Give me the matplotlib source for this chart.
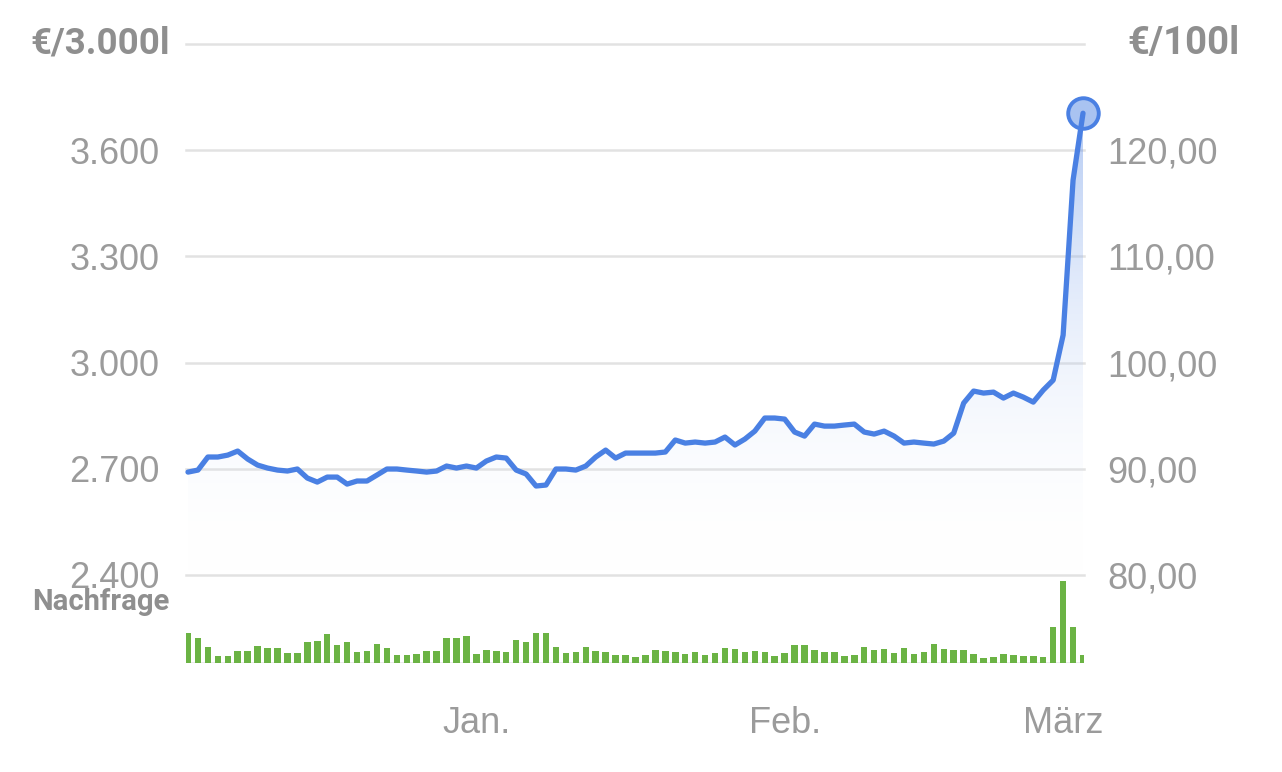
import numpy as np
import matplotlib.pyplot as plt
from matplotlib.colors import LinearSegmentedColormap
from matplotlib.patches import Polygon

# Heizölpreis in €/100l, ein Wert pro Tag (3. Dez. bis 3. März)
price = [89.69, 89.88, 91.11, 91.11, 91.29, 91.67, 90.92, 90.35, 90.07, 89.88,
         89.79, 89.98, 89.13, 88.75, 89.22, 89.22, 88.56, 88.85, 88.85, 89.41,
         89.98, 89.98, 89.88, 89.79, 89.69, 89.79, 90.26, 90.07, 90.26, 90.07,
         90.73, 91.11, 91.01, 89.88, 89.51, 88.38, 88.47, 89.98, 89.98, 89.88,
         90.26, 91.11, 91.76, 91.01, 91.48, 91.48, 91.48, 91.48, 91.58, 92.71,
         92.42, 92.52, 92.42, 92.52, 92.99, 92.24, 92.80, 93.55, 94.78, 94.78,
         94.68, 93.46, 93.08, 94.21, 94.02, 94.02, 94.12, 94.21, 93.46, 93.27,
         93.55, 93.08, 92.42, 92.52, 92.42, 92.33, 92.61, 93.36, 96.19, 97.32,
         97.13, 97.22, 96.66, 97.13, 96.75, 96.28, 97.41, 98.35, 102.59, 117.18,
         123.48]

# Nachfrage (relativer Index)
demand = [30, 25, 16, 7, 7, 12, 12, 17, 15, 15, 10, 10, 21, 22, 29, 18, 21, 11,
          12, 19, 15, 8, 8, 9, 12, 12, 25, 25, 27, 9, 13, 12,
          11, 23, 21, 30, 30, 16, 10, 11, 16, 12, 11, 8, 8, 6, 8, 13, 12, 11,
          9, 11, 8, 10, 15, 14, 11, 12, 11, 7, 10, 18,
          18, 13, 11, 11, 7, 8, 16, 13, 14, 10, 15, 9, 11, 19, 14, 13, 13, 9,
          5, 6, 9, 8, 7, 7, 6, 36, 82, 36, 8]

month_days = [29, 60, 88]
month_labels = ['Jan.', 'Feb.', 'März']
yticks = [80, 90, 100, 110, 120]
grid_levels = [80, 90, 100, 110, 120, 130]

days = np.arange(len(price))

W, H = 1282, 772
def px(l, t, r, b):
    return [l / W, 1 - b / H, (r - l) / W, (b - t) / H]

line_c = '#4a80e3'
tick_c = '#9b9b9b'
title_c = '#8f8f8f'
grid_c = '#e2e2e2'

fig = plt.figure(figsize=(W / 100, H / 100), dpi=100)
xlim = (-0.2, 90.1)

ax = fig.add_axes(px(186, 44, 1084, 575))
ax.set_xlim(*xlim)
ax.set_ylim(80, 130)
for s in ax.spines.values():
    s.set_visible(False)
ax.set_xticks([])

for g in grid_levels:
    ax.axhline(g, color=grid_c, lw=1.8, zorder=0, clip_on=False)

# gradient under the line
grad = np.linspace(0, 1, 256).reshape(-1, 1)
cmap = LinearSegmentedColormap.from_list('g', [(1, 1, 1, 0), (0.29, 0.50, 0.89, 0.55)])
im = ax.imshow(grad, extent=[xlim[0], xlim[1], 80, 130], origin='lower',
               cmap=cmap, aspect='auto', zorder=1, interpolation='bilinear')
verts = list(zip(days, price)) + [(days[-1], 80), (days[0], 80)]
poly = Polygon(verts, closed=True, facecolor='none', edgecolor='none')
ax.add_patch(poly)
im.set_clip_path(poly)

ax.plot(days[-1], price[-1], 'o', ms=22, mfc='#a9c3f1', mec=line_c, mew=2.8,
        zorder=3, clip_on=False)
ax.plot(days, price, color=line_c, lw=3.8, solid_joinstyle='round',
        solid_capstyle='round', zorder=4, clip_on=False)

ax.set_yticks(yticks)
ax.set_yticklabels([f"{v * 30:,.0f}".replace(',', '.') for v in yticks])
ax.tick_params(axis='y', length=0, pad=19, labelsize=26, labelcolor=tick_c)
for t in ax.get_yticklabels():
    t.set_family('Liberation Sans')

ax2 = ax.twinx()
ax2.set_ylim(80, 130)
for s in ax2.spines.values():
    s.set_visible(False)
ax2.set_yticks(yticks)
ax2.set_yticklabels([f"{v:.2f}".replace('.', ',') for v in yticks])
ax2.tick_params(axis='y', length=0, pad=17, labelsize=26, labelcolor=tick_c)
for t in ax2.get_yticklabels():
    t.set_family('Liberation Sans')

fig.text(30 / W, 1 - 44 / H, '€/3.000l', ha='left', va='center', fontsize=26.5,
         fontweight='bold', color=title_c, family='Roboto')
fig.text(1240 / W, 1 - 44 / H, '€/100l', ha='right', va='center', fontsize=27.5,
         fontweight='bold', color=title_c, family='Roboto')

# Nachfrage
bax = fig.add_axes(px(186, 578, 1084, 663))
bax.set_xlim(*xlim)
bax.set_ylim(0, 85)
bax.bar(days, demand, width=0.65, color='#6bb344', zorder=2)
bax.axhline(0, color='#e6e6e6', lw=1.2, zorder=1)
for s in bax.spines.values():
    s.set_visible(False)
bax.set_yticks([])
bax.set_xticks(month_days)
bax.set_xticklabels(month_labels)
bax.tick_params(axis='x', length=0, pad=31, labelsize=26, labelcolor=tick_c)
for t in bax.get_xticklabels():
    t.set_family('Liberation Sans')

fig.text(32 / W, 1 - 602 / H, 'Nachfrage', ha='left', va='center', fontsize=21,
         fontweight='bold', color=title_c, family='Roboto')

fig.savefig('out.png', dpi=100, facecolor='white')
